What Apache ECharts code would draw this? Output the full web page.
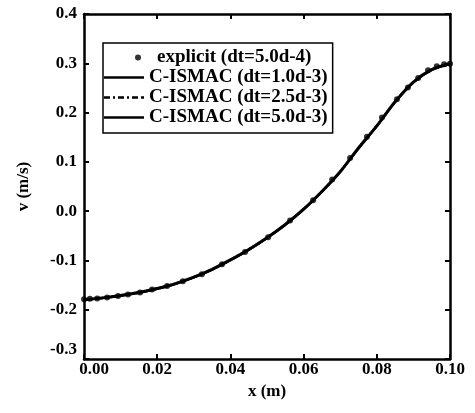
<!DOCTYPE html>
<html><head><meta charset="utf-8">
<script src="https://cdn.jsdelivr.net/npm/echarts@6/dist/echarts.min.js"></script>
<style>html,body{margin:0;padding:0;background:#fff}#c{width:475px;height:413px}</style>
</head><body><div id="c"></div>
<script>
// explicit solution points (nonuniform grid)
var dotX = [0.0000,0.0016,0.0036,0.0063,0.0093,0.0120,0.0153,0.0186,0.0227,0.0270,0.0322,0.0377,0.0440,0.0503,0.0563,0.0626,0.0678,0.0727,0.0773,0.0814,0.0855,0.0885,0.0913,0.0940,0.0964,0.0984,0.1000];
var dotV = [-0.179,-0.178,-0.177,-0.175,-0.172,-0.169,-0.165,-0.159,-0.152,-0.142,-0.128,-0.108,-0.083,-0.053,-0.019,0.022,0.064,0.108,0.151,0.190,0.227,0.251,0.270,0.286,0.294,0.298,0.299];
// C-ISMAC curves
var lineX = [0,0.005,0.01,0.015,0.02,0.025,0.03,0.035,0.04,0.045,0.05,0.055,0.06,0.065,0.07,0.075,0.08,0.085,0.09,0.095,0.1];
var v1 = [-0.180,-0.176,-0.171,-0.165,-0.157,-0.147,-0.134,-0.118,-0.099,-0.078,-0.054,-0.027,0.004,0.040,0.080,0.128,0.173,0.222,0.262,0.287,0.299];
var v2 = [-0.180,-0.176,-0.171,-0.165,-0.157,-0.147,-0.134,-0.118,-0.099,-0.078,-0.054,-0.027,0.004,0.040,0.080,0.128,0.173,0.222,0.262,0.287,0.299];
var v3 = [-0.181,-0.177,-0.172,-0.166,-0.158,-0.148,-0.135,-0.119,-0.100,-0.079,-0.055,-0.028,0.003,0.039,0.080,0.127,0.172,0.221,0.261,0.286,0.298];
var names = ['explicit (dt=5.0d-4)','C-ISMAC (dt=1.0d-3)','C-ISMAC (dt=2.5d-3)','C-ISMAC (dt=5.0d-3)'];
var xTicks = [0,0.02,0.04,0.06,0.08,0.1];
var yTicks = [-0.3,-0.2,-0.1,0.0,0.1,0.2,0.3,0.4];

function zip(a,b){return a.map(function(x,i){return [x,b[i]];});}
var FONT = '"Liberation Serif", "DejaVu Serif", serif';
var LFS = 19, TFS = 17;
var chart = echarts.init(document.getElementById('c'));
var axisCommon = {
  axisLine:{show:true,onZero:false,lineStyle:{color:'#000',width:2.5}},
  axisTick:{show:true,inside:true,length:5,lineStyle:{color:'#000',width:2}},
  splitLine:{show:false}
};
var solidIcon = 'path://M0,6L40,6L40,8.6L0,8.6Z';
var dashIcon = 'path://M0,6L6,6L6,8.6L0,8.6Z M9,6L11,6L11,8.6L9,8.6Z M14,6L20,6L20,8.6L14,8.6Z M23,6L25,6L25,8.6L23,8.6Z M28,6L34,6L34,8.6L28,8.6Z M37,6L40,6L40,8.6L37,8.6Z';
chart.setOption({
  animation:false,
  grid:{left:84,top:14,right:25,bottom:54},
  legend:{
    left:103, top:43, orient:'vertical',
    borderColor:'#000', borderWidth:1.5, padding:[5,5,6,1],
    itemGap:1, itemWidth:40, itemHeight:14,
    textStyle:{fontFamily:FONT,fontWeight:'bold',fontSize:LFS,color:'#000',
      rich:{ind:{fontFamily:FONT,fontWeight:'bold',fontSize:LFS,color:'#000',padding:[0,0,0,8]}}},
    formatter:function(n){return n===names[0]?'{ind|'+n+'}':n;},
    data:[
      {name:names[0],icon:'path://M0,0 M40,14 M31,7 a3,3 0 1,0 6,0 a3,3 0 1,0 -6,0 Z'},
      {name:names[1],icon:solidIcon},{name:names[2],icon:dashIcon},{name:names[3],icon:solidIcon}
    ]
  },
  xAxis:[Object.assign({
    type:'value',min:xTicks[0],max:xTicks[xTicks.length-1],interval:0.02,
    name:'x (m)',nameLocation:'middle',nameGap:24,
    nameTextStyle:{fontFamily:FONT,fontWeight:'bold',fontSize:17,color:'#000'},
    axisLabel:{margin:2,color:'#000',fontFamily:FONT,fontWeight:'bold',fontSize:TFS,
      formatter:function(v){var s=v.toFixed(2);return Math.abs(v)<1e-9?'{first|0.00}':s;},
      rich:{first:{fontFamily:FONT,fontWeight:'bold',fontSize:TFS,color:'#000',padding:[0,0,0,20]}}}
  },axisCommon),Object.assign({
    type:'value',position:'top',min:xTicks[0],max:xTicks[xTicks.length-1],interval:0.02,
    axisLabel:{show:false}
  },axisCommon)],
  yAxis:[Object.assign({
    type:'value',min:yTicks[0],max:yTicks[yTicks.length-1],interval:0.1,
    name:'v (m/s)',nameLocation:'middle',nameGap:52,
    nameTextStyle:{fontFamily:FONT,fontWeight:'bold',fontSize:17,color:'#000'},
    axisLabel:{margin:7,color:'#000',fontFamily:FONT,fontWeight:'bold',fontSize:TFS,
      formatter:function(v){if(Math.abs(v)<1e-9)return '0.0';var s=v.toFixed(1);return Math.abs(v+0.3)<1e-9?'{low|'+s+'}':s;},
      rich:{low:{fontFamily:FONT,fontWeight:'bold',fontSize:TFS,color:'#000',padding:[0,0,18,0]}}}
  },axisCommon),Object.assign({
    type:'value',position:'right',min:yTicks[0],max:yTicks[yTicks.length-1],interval:0.1,
    axisLabel:{show:false}
  },axisCommon)],
  series:[
    {name:names[0],type:'scatter',data:zip(dotX,dotV),symbol:'circle',symbolSize:6,itemStyle:{color:'#000'},z:3},
    {name:names[1],type:'line',data:zip(lineX,v1),smooth:0.3,symbol:'none',lineStyle:{color:'#000',width:3,type:'solid'},itemStyle:{color:'#000'}},
    {name:names[2],type:'line',data:zip(lineX,v2),smooth:0.3,symbol:'none',lineStyle:{color:'#000',width:2.5,type:[5,2,1.5,2,1.5,2]},itemStyle:{color:'#000'}},
    {name:names[3],type:'line',data:zip(lineX,v3),smooth:0.3,symbol:'none',lineStyle:{color:'#000',width:2,type:'solid'},itemStyle:{color:'#000'}}
  ]
});
</script></body></html>
